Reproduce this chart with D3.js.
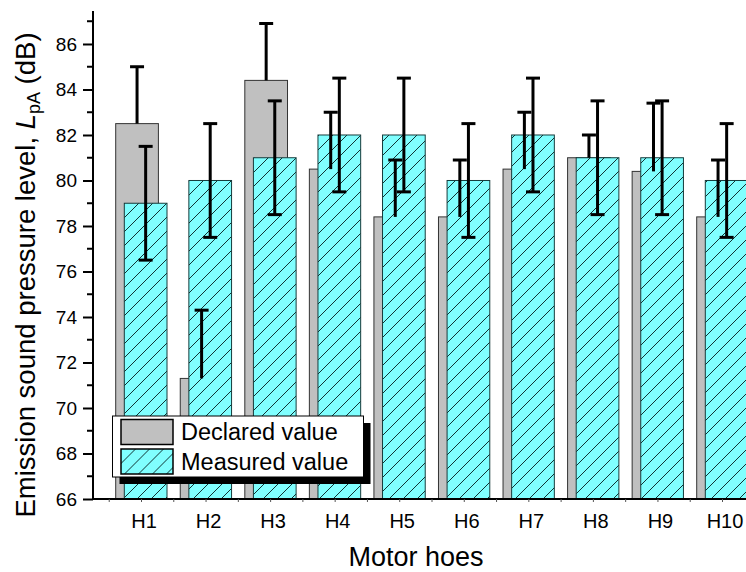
<!DOCTYPE html>
<html>
<head>
<meta charset="utf-8">
<script src="https://cdn.jsdelivr.net/npm/d3@7"></script>
<style>
  body { margin: 0; background: #fff; }
  svg { display: block; font-family: "Liberation Sans", Arial, sans-serif; }
</style>
</head>
<body>
<div id="chart"></div>
<script>
var categories = ["H1", "H2", "H3", "H4", "H5", "H6", "H7", "H8", "H9", "H10"];
var declared = [82.5, 71.3, 84.4, 80.5, 78.4, 78.4, 80.5, 81.0, 80.4, 78.4];
var declaredErr = [2.5, 3.0, 2.5, 2.5, 2.5, 2.5, 2.5, 1.0, 3.0, 2.5];
var measured = [79, 80, 81, 82, 82, 80, 82, 81, 81, 80];
var measuredErr = [2.5, 2.5, 2.5, 2.5, 2.5, 2.5, 2.5, 2.5, 2.5, 2.5];
var yTicks = [66, 68, 70, 72, 74, 76, 78, 80, 82, 84, 86];
var legendLabels = ["Declared value", "Measured value"];

var W = 746, H = 572;
var margin = { top: 11, left: 93 };
var width = W - margin.left,
  height = 499 - margin.top;

var svg = d3.select("#chart").append("svg")
  .attr("width", W).attr("height", H);

// diagonal hatch for the measured bars
var hs = 14;
var defs = svg.append("defs");
var pat = defs.append("pattern")
  .attr("id", "hatch")
  .attr("patternUnits", "userSpaceOnUse")
  .attr("width", hs).attr("height", hs);
pat.append("rect").attr("width", hs).attr("height", hs).attr("fill", "#80ffff");
pat.append("path")
  .attr("d", "M-1," + (hs + 1) + " L" + (hs + 1) + ",-1 M-1,1 L1,-1 M" + (hs - 1) + "," + (hs + 1) + " L" + (hs + 1) + "," + (hs - 1))
  .attr("stroke", "#103333").attr("stroke-width", 1);

var g = svg.append("g")
  .attr("transform", "translate(" + margin.left + "," + margin.top + ")");

var x = d3.scalePoint().domain(categories).range([48.5, 629.5]);
var y = d3.scaleLinear().domain([66, 87.45]).range([height, 0]);

var barW = 42.7;
var grayOff = -25.8, cyanOff = -17.2;

var rows = categories.map(function (c, i) {
  return { cat: c, d: declared[i], de: declaredErr[i], m: measured[i], me: measuredErr[i] };
});

// declared bars
g.selectAll(".dbar").data(rows).enter().append("rect")
  .attr("class", "dbar")
  .attr("x", function (d) { return x(d.cat) + grayOff; })
  .attr("y", function (d) { return y(d.d); })
  .attr("width", barW)
  .attr("height", function (d) { return height - y(d.d); })
  .attr("fill", "#c0c0c0")
  .attr("stroke", "#333")
  .attr("stroke-width", 1);

// measured bars
g.selectAll(".mbar").data(rows).enter().append("rect")
  .attr("class", "mbar")
  .attr("x", function (d) { return x(d.cat) + cyanOff; })
  .attr("y", function (d) { return y(d.m); })
  .attr("width", barW)
  .attr("height", function (d) { return height - y(d.m); })
  .attr("fill", "url(#hatch)")
  .attr("stroke", "#163c3c")
  .attr("stroke-width", 1);

function errBars(cls, off, lo, hi) {
  var eg = g.selectAll("." + cls).data(rows).enter().append("g")
    .attr("class", cls)
    .attr("stroke", "#000").attr("stroke-width", 3);
  eg.append("line")
    .attr("x1", function (d) { return x(d.cat) + off; })
    .attr("x2", function (d) { return x(d.cat) + off; })
    .attr("y1", function (d) { return y(lo(d)); })
    .attr("y2", function (d) { return y(hi(d)); });
  eg.append("line")
    .attr("x1", function (d) { return x(d.cat) + off - 7; })
    .attr("x2", function (d) { return x(d.cat) + off + 7; })
    .attr("y1", function (d) { return y(hi(d)); })
    .attr("y2", function (d) { return y(hi(d)); });
  return eg;
}

// declared error: plus direction only
errBars("derr", grayOff + barW / 2,
  function (d) { return d.d; }, function (d) { return d.d + d.de; });

// measured error: both directions
var me = errBars("merr", cyanOff + barW / 2,
  function (d) { return d.m - d.me; }, function (d) { return d.m + d.me; });
me.append("line")
  .attr("x1", function (d) { return x(d.cat) + cyanOff + barW / 2 - 7; })
  .attr("x2", function (d) { return x(d.cat) + cyanOff + barW / 2 + 7; })
  .attr("y1", function (d) { return y(d.m - d.me); })
  .attr("y2", function (d) { return y(d.m - d.me); });

// y axis
var yAxis = g.append("g")
  .call(d3.axisLeft(y).tickValues(yTicks).tickSize(10).tickPadding(6).tickFormat(d3.format("d")));
yAxis.select(".domain").remove();
yAxis.selectAll(".tick line").attr("stroke-width", 2);
yAxis.selectAll("text").attr("font-size", 19).attr("font-family", "Liberation Sans, Arial, sans-serif").attr("fill", "#000");

var minor = d3.range(67, 88, 2);
g.selectAll(".ymin").data(minor).enter().append("line")
  .attr("x1", -6).attr("x2", 0)
  .attr("y1", function (d) { return y(d); })
  .attr("y2", function (d) { return y(d); })
  .attr("stroke", "#000").attr("stroke-width", 2);

g.append("line")
  .attr("x1", 0).attr("x2", 0).attr("y1", 0).attr("y2", height + 1)
  .attr("stroke", "#000").attr("stroke-width", 2);

// x axis
g.append("line")
  .attr("x1", -1).attr("x2", width).attr("y1", height).attr("y2", height)
  .attr("stroke", "#000").attr("stroke-width", 2);

var step = x.step();
var xt = [];
categories.forEach(function (c) { xt.push(x(c) - step / 2); xt.push(x(c)); });
g.selectAll(".xmin").data(xt).enter().append("line")
  .attr("x1", function (d) { return d; }).attr("x2", function (d) { return d; })
  .attr("y1", height).attr("y2", height + 3)
  .attr("stroke", "#555").attr("stroke-width", 1);

g.selectAll(".xlab").data(categories).enter().append("text")
  .attr("x", function (d) { return x(d) + 2.5; })
  .attr("y", height + 29)
  .attr("text-anchor", "middle")
  .attr("font-size", 20)
  .text(function (d) { return d; });

// axis titles
svg.append("text")
  .attr("x", 416).attr("y", 566)
  .attr("text-anchor", "middle")
  .attr("font-size", 27)
  .text("Motor hoes");

var yt = svg.append("text")
  .attr("transform", "translate(35,275) rotate(-90)")
  .attr("text-anchor", "middle")
  .attr("font-size", 27.5);
yt.append("tspan").text("Emission sound pressure level, ");
yt.append("tspan").attr("font-style", "italic").text("L");
yt.append("tspan").attr("font-size", 18).attr("dy", 5).text("pA");
yt.append("tspan").attr("dy", -5).text(" (dB)");

// legend
var lg = svg.append("g").attr("transform", "translate(112.5,416)");
lg.append("rect").attr("x", 7).attr("y", 7).attr("width", 251).attr("height", 61).attr("fill", "#000");
lg.append("rect").attr("width", 251).attr("height", 61).attr("fill", "#fff").attr("stroke", "#000").attr("stroke-width", 1);
var fills = ["#c0c0c0", "url(#hatch)"];
legendLabels.forEach(function (t, i) {
  lg.append("rect")
    .attr("x", 8.5).attr("y", 3.5 + i * 29.5)
    .attr("width", 52).attr("height", 25)
    .attr("fill", fills[i])
    .attr("stroke", "#000").attr("stroke-width", 1.5);
  lg.append("text")
    .attr("x", 68.5).attr("y", 24 + i * 29.5)
    .attr("font-size", 23.5)
    .text(t);
});
</script>
</body>
</html>
